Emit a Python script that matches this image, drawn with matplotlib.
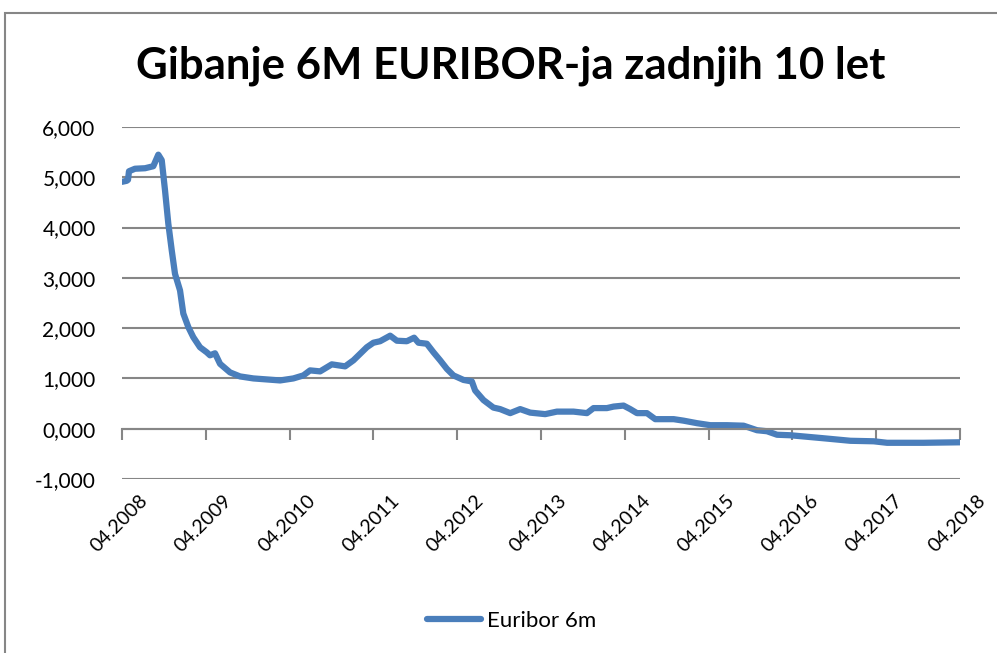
import matplotlib
matplotlib.use("Agg")
import matplotlib.pyplot as plt
from matplotlib.patches import Rectangle
from matplotlib.transforms import ScaledTranslation

# months since 04.2008 and 6M EURIBOR in %
months = [0.0, 0.67, 0.86, 1.0, 1.86, 3.3, 4.48, 5.2, 5.69, 6.16, 6.63, 7.12,
          7.59, 8.31, 8.78, 9.5, 10.21, 11.17, 12.13, 12.6, 13.32, 14.04, 15.47,
          16.9, 18.81, 20.73, 22.64, 24.54, 25.97, 26.93, 28.37, 30.04, 31.95,
          33.14, 34.1, 35.06, 36.0, 36.96, 38.4, 39.36, 40.79, 41.83, 42.45,
          43.65, 44.6, 45.56, 46.52, 47.46, 48.9, 50.1, 50.57, 51.76, 53.19,
          54.15, 55.59, 57.02, 58.45, 60.6, 62.28, 64.66, 66.58, 67.52, 69.44,
          70.39, 71.82, 72.78, 73.74, 75.17, 76.36, 79.0, 80.42, 82.34, 84.24,
          86.63, 89.01, 90.93, 92.36, 93.8, 95.7, 98.09, 100.47, 104.3, 107.64,
          109.56, 114.8, 120.0]
euribor = [4.91, 4.93, 4.95, 5.12, 5.17, 5.18, 5.22, 5.45, 5.34, 4.74, 4.08, 3.55,
           3.08, 2.75, 2.29, 2.02, 1.82, 1.62, 1.52, 1.46, 1.50, 1.29, 1.12,
           1.04, 1.00, 0.98, 0.96, 1.00, 1.06, 1.16, 1.14, 1.28, 1.24,
           1.36, 1.49, 1.62, 1.71, 1.74, 1.85, 1.75, 1.74, 1.81, 1.71,
           1.69, 1.52, 1.36, 1.19, 1.06, 0.97, 0.94, 0.76, 0.57, 0.42,
           0.39, 0.31, 0.39, 0.32, 0.29, 0.34, 0.34, 0.31, 0.41, 0.41,
           0.44, 0.46, 0.39, 0.31, 0.31, 0.19, 0.19, 0.16, 0.11, 0.07,
           0.07, 0.06, -0.03, -0.05, -0.12, -0.13, -0.16, -0.19, -0.24, -0.25,
           -0.28, -0.28, -0.27]

tick_pos = [0, 12, 24, 36, 48, 60, 72, 84, 96, 108, 120]
tick_labels = ["04.2008", "04.2009", "04.2010", "04.2011", "04.2012", "04.2013",
               "04.2014", "04.2015", "04.2016", "04.2017", "04.2018"]
y_ticks = [-1, 0, 1, 2, 3, 4, 5, 6]

plt.rcParams['font.family'] = ['Lato', 'DejaVu Sans']
blue = '#4a7ebb'
grey = '#868686'

fig = plt.figure(figsize=(9.97, 6.53), dpi=100)

# outer chart frame (cropped on the right / bottom)
fig.patches.append(Rectangle((5 / 997, -0.05), 1.1, 1 - 13 / 653 + 0.05,
                             transform=fig.transFigure, fill=False,
                             edgecolor=grey, linewidth=1.5))

ax = fig.add_axes([122 / 997, 1 - 479 / 653, 838 / 997, 352 / 653])
ax.plot(months, euribor, color=blue, linewidth=4.5, solid_capstyle='round',
        solid_joinstyle='round', label='Euribor 6m')

ax.set_ylim(-1, 6)
ax.set_xlim(0, 120)
ax.set_yticks(y_ticks)
ax.set_yticklabels(["{:,.3f}".format(v).replace('.', ',') for v in y_ticks])
ax.grid(axis='y', color=grey, linewidth=1.5)
ax.set_axisbelow(True)
ax.tick_params(axis='y', length=0, pad=19, labelsize=15)

for s in ['left', 'right', 'top']:
    ax.spines[s].set_visible(False)
ax.spines['bottom'].set_position(('data', 0))
ax.spines['bottom'].set_color(grey)
ax.spines['bottom'].set_linewidth(1.5)
ax.set_xticks(tick_pos)
ax.tick_params(axis='x', length=8, width=1.5, color=grey, labelbottom=False,
               direction='out')

# category labels sit under the plot area, not at the zero line
sec = ax.secondary_xaxis('bottom')
sec.set_xticks(tick_pos)
sec.set_xticklabels(tick_labels, rotation=45, ha='right', va='top',
                    rotation_mode='anchor', fontsize=14)
sec.tick_params(length=0, pad=9)
sec.spines['bottom'].set_visible(False)
shift = ScaledTranslation(17 / 100, 0, fig.dpi_scale_trans)
for lbl in sec.get_xticklabels():
    lbl.set_transform(lbl.get_transform() + shift)

fig.text(511 / 997, 1 - 66 / 653, "Gibanje 6M EURIBOR-ja zadnjih 10 let",
         ha='center', va='center', fontsize=31.5, fontweight='bold')

fig.legend(loc='center', bbox_to_anchor=(512 / 997, 1 - 621 / 653),
           frameon=False, fontsize=16, handlelength=2.4, handletextpad=0.3)

fig.savefig('out.png', dpi=100)
